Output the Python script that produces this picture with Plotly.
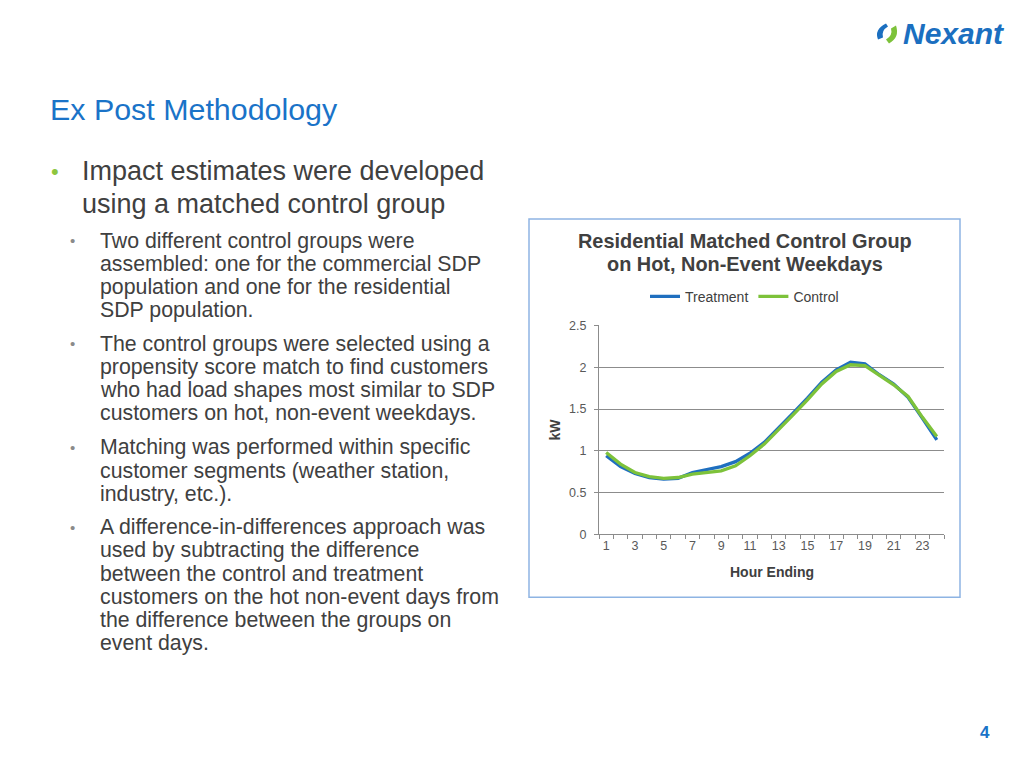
import plotly.graph_objects as go

# ---------------- data ----------------
hours = list(range(1, 25))
treatment_kw = [0.94, 0.81, 0.73, 0.68, 0.66, 0.67, 0.74, 0.78, 0.81, 0.87, 0.97, 1.10,
                1.27, 1.45, 1.63, 1.82, 1.97, 2.06, 2.04, 1.91, 1.80, 1.64, 1.39, 1.13]
control_kw = [0.98, 0.84, 0.74, 0.69, 0.67, 0.68, 0.72, 0.74, 0.76, 0.82, 0.94, 1.08,
              1.25, 1.43, 1.61, 1.80, 1.95, 2.03, 2.02, 1.90, 1.79, 1.65, 1.40, 1.17]
y_ticks = [0, 0.5, 1, 1.5, 2, 2.5]
y_tick_labels = ["0", "0.5", "1", "1.5", "2", "2.5"]

slide_title = "Ex Post Methodology"
chart_title = ["Residential Matched Control Group", "on Hot, Non-Event Weekdays"]
main_bullet = ["Impact estimates were developed", "using a matched control group"]
sub_bullets = [
    ["Two different control groups were", "assembled: one for the commercial SDP",
     "population and one for the residential", "SDP population."],
    ["The control groups were selected using a", "propensity score match to find customers",
     "who had load shapes most similar to SDP", "customers on hot, non-event weekdays."],
    ["Matching was performed within specific", "customer segments (weather station,",
     "industry, etc.)."],
    ["A difference-in-differences approach was", "used by subtracting the difference",
     "between the control and treatment", "customers on the hot non-event days from",
     "the difference between the groups on", "event days."],
]
sub_bullet_tops = [240, 343, 447, 527]

W, H = 1024, 768


def px(X):
    return X / W


def py(Y):
    # empirical correction for the vertical placement seen in the rendered picture
    Yc = (Y - 5.5) / 0.984
    return 1 - Yc / H


TEXT = "#404040"
BLUE = "#1F6FBF"
GREEN = "#7DC23A"
GRID = "#8C8C8C"
FONT = "Liberation Sans, Arial, sans-serif"

fig = go.Figure()
fig.add_trace(go.Scatter(x=[str(h) for h in hours], y=treatment_kw, name="Treatment",
                         mode="lines", line=dict(color=BLUE, width=3.3)))
fig.add_trace(go.Scatter(x=[str(h) for h in hours], y=control_kw, name="Control",
                         mode="lines", line=dict(color=GREEN, width=3.3)))

ann = []
ann.append(dict(x=px(48), y=py(108), text=slide_title, xanchor="left", yanchor="middle",
                font=dict(family=FONT, size=30.4, color="#1A73C8")))
ann.append(dict(x=px(49), y=py(170), text="•", xanchor="left", yanchor="middle",
                font=dict(family=FONT, size=22, color="#8DC63F")))
for i, line in enumerate(main_bullet):
    ann.append(dict(x=px(80), y=py(170 + 33 * i), text=line, xanchor="left", yanchor="middle",
                    font=dict(family=FONT, size=27, color=TEXT)))
for top, lines in zip(sub_bullet_tops, sub_bullets):
    ann.append(dict(x=px(68), y=py(top), text="•", xanchor="left", yanchor="middle",
                    font=dict(family=FONT, size=15, color="#8A8A8A")))
    for j, line in enumerate(lines):
        ann.append(dict(x=px(98), y=py(top + 23.2 * j), text=line, xanchor="left",
                        yanchor="middle", font=dict(family=FONT, size=21.3, color=TEXT)))
ann.append(dict(x=px(985), y=py(733), text="<b>4</b>", xanchor="center", yanchor="middle",
                font=dict(family=FONT, size=17, color="#1A73C8")))
ann.append(dict(x=px(901), y=py(32), text="<b><i>Nexant</i></b>", xanchor="left",
                yanchor="middle", font=dict(family=FONT, size=30, color="#1B6FC0")))
for k, line in enumerate(chart_title):
    ann.append(dict(x=px(745), y=py(240 + 23 * k), text=f"<b>{line}</b>", xanchor="center",
                    yanchor="middle", font=dict(family=FONT, size=19.9, color=TEXT)))
ann.append(dict(x=px(555), y=py(429), text="<b>kW</b>", textangle=-90, xanchor="center",
                yanchor="middle", font=dict(family=FONT, size=14, color=TEXT)))
ann.append(dict(x=px(772), y=py(572), text="<b>Hour Ending</b>", xanchor="center",
                yanchor="middle", font=dict(family=FONT, size=14, color=TEXT)))
for a in ann:
    a.update(xref="paper", yref="paper", showarrow=False)

shapes = [
    dict(type="rect", xref="paper", yref="paper", x0=px(529), x1=px(960), y0=py(597), y1=py(218),
         line=dict(color="#8EB4E3", width=1.5)),
    dict(type="path", xref="paper", yref="paper",
         path=f"M {px(886)} {py(22)} Q {px(874)} {py(28)} {px(878)} {py(38)} L {px(883)} {py(36)} Q {px(881)} {py(29)} {px(888)} {py(25)} Z",
         fillcolor="#1B6FC0", line=dict(width=0)),
    dict(type="path", xref="paper", yref="paper",
         path=f"M {px(889)} {py(42)} Q {px(900)} {py(36)} {px(896)} {py(24)} L {px(891)} {py(27)} Q {px(893)} {py(34)} {px(886)} {py(38)} Z",
         fillcolor="#7DC23A", line=dict(width=0)),
]

fig.update_layout(
    width=W, height=H, margin=dict(l=0, r=0, t=0, b=0),
    paper_bgcolor="white", plot_bgcolor="white",
    annotations=ann, shapes=shapes,
    showlegend=True,
    legend=dict(orientation="h", x=px(645), y=py(296), xanchor="left", yanchor="middle",
                font=dict(family=FONT, size=14, color=TEXT),
                bgcolor="rgba(0,0,0,0)", itemwidth=30, traceorder="normal"),
    xaxis=dict(domain=[px(599), px(944)], type="category", tickson="boundaries",
               range=[-0.5, len(hours) - 0.5],
               tickmode="linear", tick0=0, dtick=1,
               ticks="outside", ticklen=4, tickcolor=GRID, ticklabelstep=2, tickangle=0,
               showgrid=False, showline=True, linecolor=GRID, linewidth=1,
               tickfont=dict(family=FONT, size=12.5, color="#595959"), zeroline=False),
    yaxis=dict(domain=[py(534), py(324.7)], range=[0, 2.5], tickmode="array",
               tickvals=y_ticks, ticktext=y_tick_labels, ticks="outside", ticklen=4,
               ticklabelstandoff=5,
               tickcolor=GRID, showgrid=True, gridcolor=GRID, gridwidth=1,
               showline=True, linecolor=GRID, zeroline=False,
               tickfont=dict(family=FONT, size=12.5, color="#595959")),
    font=dict(family=FONT),
)

fig.write_html("out.html", config={"displayModeBar": False},
               post_script="document.body.style.margin='0';document.body.style.overflow='hidden';")
